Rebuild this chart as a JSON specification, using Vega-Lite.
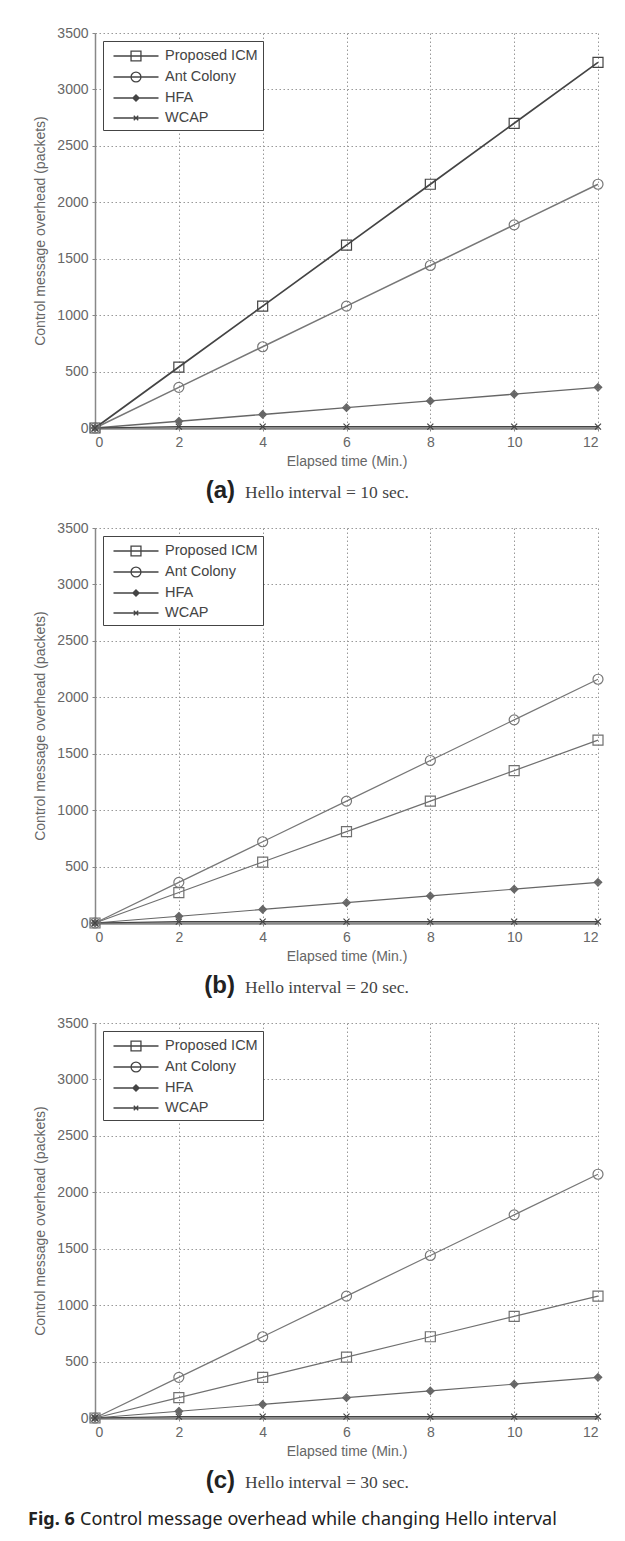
{
  "$schema": "https://vega.github.io/schema/vega-lite/v6.json",
  "background": "white",
  "padding": {"left": 28, "top": 26, "right": 5, "bottom": 0},
  "config": {
    "view": {"stroke": null},
    "font": "Liberation Sans",
    "axis": {
      "labelFont": "Liberation Sans", "labelFontSize": 14, "labelColor": "#666",
      "titleFont": "Liberation Sans", "titleFontSize": 14, "titleFontWeight": "normal", "titleColor": "#666",
      "grid": true, "gridDash": [1.5, 2.5], "gridColor": "#999", "gridWidth": 1,
      "domainColor": "#888", "tickColor": "#888", "tickSize": 3, "labelPadding": 4
    },
    "axisX": {"domainWidth": 2.5, "titlePadding": 5},
    "axisY": {"titlePadding": 9, "domainWidth": 1.5}
  },
  "datasets": {
    "series": [
      {"p": "a", "s": "Proposed ICM", "t": 0, "v": 0}, {"p": "a", "s": "Proposed ICM", "t": 2, "v": 540}, {"p": "a", "s": "Proposed ICM", "t": 4, "v": 1080}, {"p": "a", "s": "Proposed ICM", "t": 6, "v": 1620}, {"p": "a", "s": "Proposed ICM", "t": 8, "v": 2160}, {"p": "a", "s": "Proposed ICM", "t": 10, "v": 2700}, {"p": "a", "s": "Proposed ICM", "t": 12, "v": 3240},
      {"p": "a", "s": "Ant Colony", "t": 0, "v": 0}, {"p": "a", "s": "Ant Colony", "t": 2, "v": 360}, {"p": "a", "s": "Ant Colony", "t": 4, "v": 720}, {"p": "a", "s": "Ant Colony", "t": 6, "v": 1080}, {"p": "a", "s": "Ant Colony", "t": 8, "v": 1440}, {"p": "a", "s": "Ant Colony", "t": 10, "v": 1800}, {"p": "a", "s": "Ant Colony", "t": 12, "v": 2160},
      {"p": "a", "s": "HFA", "t": 0, "v": 0}, {"p": "a", "s": "HFA", "t": 2, "v": 60}, {"p": "a", "s": "HFA", "t": 4, "v": 120}, {"p": "a", "s": "HFA", "t": 6, "v": 180}, {"p": "a", "s": "HFA", "t": 8, "v": 240}, {"p": "a", "s": "HFA", "t": 10, "v": 300}, {"p": "a", "s": "HFA", "t": 12, "v": 360},
      {"p": "a", "s": "WCAP", "t": 0, "v": 0}, {"p": "a", "s": "WCAP", "t": 2, "v": 12}, {"p": "a", "s": "WCAP", "t": 4, "v": 12}, {"p": "a", "s": "WCAP", "t": 6, "v": 12}, {"p": "a", "s": "WCAP", "t": 8, "v": 12}, {"p": "a", "s": "WCAP", "t": 10, "v": 12}, {"p": "a", "s": "WCAP", "t": 12, "v": 12},
      {"p": "b", "s": "Proposed ICM", "t": 0, "v": 0}, {"p": "b", "s": "Proposed ICM", "t": 2, "v": 270}, {"p": "b", "s": "Proposed ICM", "t": 4, "v": 540}, {"p": "b", "s": "Proposed ICM", "t": 6, "v": 810}, {"p": "b", "s": "Proposed ICM", "t": 8, "v": 1080}, {"p": "b", "s": "Proposed ICM", "t": 10, "v": 1350}, {"p": "b", "s": "Proposed ICM", "t": 12, "v": 1620},
      {"p": "b", "s": "Ant Colony", "t": 0, "v": 0}, {"p": "b", "s": "Ant Colony", "t": 2, "v": 360}, {"p": "b", "s": "Ant Colony", "t": 4, "v": 720}, {"p": "b", "s": "Ant Colony", "t": 6, "v": 1080}, {"p": "b", "s": "Ant Colony", "t": 8, "v": 1440}, {"p": "b", "s": "Ant Colony", "t": 10, "v": 1800}, {"p": "b", "s": "Ant Colony", "t": 12, "v": 2160},
      {"p": "b", "s": "HFA", "t": 0, "v": 0}, {"p": "b", "s": "HFA", "t": 2, "v": 60}, {"p": "b", "s": "HFA", "t": 4, "v": 120}, {"p": "b", "s": "HFA", "t": 6, "v": 180}, {"p": "b", "s": "HFA", "t": 8, "v": 240}, {"p": "b", "s": "HFA", "t": 10, "v": 300}, {"p": "b", "s": "HFA", "t": 12, "v": 360},
      {"p": "b", "s": "WCAP", "t": 0, "v": 0}, {"p": "b", "s": "WCAP", "t": 2, "v": 12}, {"p": "b", "s": "WCAP", "t": 4, "v": 12}, {"p": "b", "s": "WCAP", "t": 6, "v": 12}, {"p": "b", "s": "WCAP", "t": 8, "v": 12}, {"p": "b", "s": "WCAP", "t": 10, "v": 12}, {"p": "b", "s": "WCAP", "t": 12, "v": 12},
      {"p": "c", "s": "Proposed ICM", "t": 0, "v": 0}, {"p": "c", "s": "Proposed ICM", "t": 2, "v": 180}, {"p": "c", "s": "Proposed ICM", "t": 4, "v": 360}, {"p": "c", "s": "Proposed ICM", "t": 6, "v": 540}, {"p": "c", "s": "Proposed ICM", "t": 8, "v": 720}, {"p": "c", "s": "Proposed ICM", "t": 10, "v": 900}, {"p": "c", "s": "Proposed ICM", "t": 12, "v": 1080},
      {"p": "c", "s": "Ant Colony", "t": 0, "v": 0}, {"p": "c", "s": "Ant Colony", "t": 2, "v": 360}, {"p": "c", "s": "Ant Colony", "t": 4, "v": 720}, {"p": "c", "s": "Ant Colony", "t": 6, "v": 1080}, {"p": "c", "s": "Ant Colony", "t": 8, "v": 1440}, {"p": "c", "s": "Ant Colony", "t": 10, "v": 1800}, {"p": "c", "s": "Ant Colony", "t": 12, "v": 2160},
      {"p": "c", "s": "HFA", "t": 0, "v": 0}, {"p": "c", "s": "HFA", "t": 2, "v": 60}, {"p": "c", "s": "HFA", "t": 4, "v": 120}, {"p": "c", "s": "HFA", "t": 6, "v": 180}, {"p": "c", "s": "HFA", "t": 8, "v": 240}, {"p": "c", "s": "HFA", "t": 10, "v": 300}, {"p": "c", "s": "HFA", "t": 12, "v": 360},
      {"p": "c", "s": "WCAP", "t": 0, "v": 0}, {"p": "c", "s": "WCAP", "t": 2, "v": 12}, {"p": "c", "s": "WCAP", "t": 4, "v": 12}, {"p": "c", "s": "WCAP", "t": 6, "v": 12}, {"p": "c", "s": "WCAP", "t": 8, "v": 12}, {"p": "c", "s": "WCAP", "t": 10, "v": 12}, {"p": "c", "s": "WCAP", "t": 12, "v": 12}
    ]
  },
  "spacing": 0,
  "bounds": "flush",
  "resolve": {
    "scale": {"shape": "independent", "color": "independent", "strokeWidth": "independent", "x": "independent", "y": "independent"},
    "legend": {"shape": "independent"}
  },
  "vconcat": [
    {
      "width": 503, "height": 395,
      "data": {"name": "series"},
      "transform": [{"filter": "datum.p == 'a'"}],
      "resolve": {"scale": {"shape": "independent"}},
      "encoding": {
        "x": {"field": "t", "type": "quantitative", "scale": {"domain": [0, 12]}, "axis": {"title": "Elapsed time (Min.)", "values": [0, 2, 4, 6, 8, 10, 12]}},
        "y": {"field": "v", "type": "quantitative", "scale": {"domain": [0, 3500]}, "axis": {"title": "Control message overhead (packets)", "format": "d", "values": [0, 500, 1000, 1500, 2000, 2500, 3000, 3500]}}
      },
      "layer": [
        {
          "mark": {"type": "line"},
          "encoding": {
            "detail": {"field": "s"},
            "color": {"field": "s", "type": "nominal", "scale": {"domain": ["Proposed ICM", "Ant Colony", "HFA", "WCAP"], "range": ["#444444", "#777777", "#666666", "#444444"]}, "legend": null},
            "strokeWidth": {"field": "s", "type": "nominal", "scale": {"domain": ["Proposed ICM", "Ant Colony", "HFA", "WCAP"], "range": [1.7, 1.2, 1.3, 1.8]}, "legend": null}
          }
        },
        {
          "mark": {"type": "point", "filled": false, "opacity": 1, "size": 100, "strokeWidth": 1.2},
          "encoding": {
            "color": {"field": "s", "type": "nominal", "legend": null},
            "shape": {"field": "s", "type": "nominal", "legend": null, "scale": {"domain": ["Proposed ICM", "Ant Colony", "HFA", "WCAP"], "range": ["M-1,-1H1V1H-1Z", "M1,0A1,1,0,1,1,-1,0A1,1,0,1,1,1,0", "M0,-0.75L0.75,0L0,0.75L-0.75,0ZM0,-0.4L0.4,0L0,0.4L-0.4,0ZM0,-0.75V0.75M-0.75,0H0.75", "M-0.6,-0.6L0.6,0.6M-0.6,0.6L0.6,-0.6"]}}
          }
        },
        {
          "transform": [{"filter": "false"}],
          "mark": {"type": "point", "filled": false, "opacity": 1, "color": "#444", "strokeWidth": 1.2},
          "encoding": {
            "shape": {"field": "s", "type": "nominal", "scale": {"domain": ["Proposed ICM", "Ant Colony", "HFA", "WCAP"], "range": ["M-0.5,0H4.5M1.45,-0.55H2.55V0.55H1.45Z", "M-0.5,0H4.5M2.55,0A0.55,0.55,0,1,1,1.45,0A0.55,0.55,0,1,1,2.55,0", "M-0.5,0H4.5M2,-0.35L2.35,0L2,0.35L1.65,0ZM2,-0.17L2.17,0L2,0.17L1.83,0ZM2,-0.35V0.35", "M-0.5,0H4.5M1.75,-0.25L2.25,0.25M1.75,0.25L2.25,-0.25"]},
              "legend": {"title": null, "orient": "top-left", "offset": 8, "padding": 5, "strokeColor": "#444", "fillColor": "white", "symbolSize": 324, "symbolStrokeColor": "#444", "symbolStrokeWidth": 1.3, "symbolFillColor": "transparent", "labelFont": "Liberation Sans", "labelFontSize": 14.5, "labelColor": "#444", "labelOffset": 37, "rowPadding": 3}}
          }
        }
      ]
    },
    {
      "width": 503, "height": 100,
      "layer": [
        {"data": {"values": [{"cap": "(a)"}]}, "mark": {"type": "text", "align": "right", "baseline": "middle", "dx": -111.5, "dy": 13, "font": "Liberation Sans", "fontWeight": "bold", "fontSize": 24, "color": "#222"}, "encoding": {"text": {"field": "cap"}}},
        {"data": {"values": [{"cap": "Hello interval = 10 sec."}]}, "mark": {"type": "text", "align": "left", "baseline": "middle", "dx": -101.5, "dy": 15, "font": "Liberation Serif", "fontSize": 17.5, "color": "#444"}, "encoding": {"text": {"field": "cap"}}}
      ]
    },
    {
      "width": 503, "height": 395,
      "data": {"name": "series"},
      "transform": [{"filter": "datum.p == 'b'"}],
      "resolve": {"scale": {"shape": "independent"}},
      "encoding": {
        "x": {"field": "t", "type": "quantitative", "scale": {"domain": [0, 12]}, "axis": {"title": "Elapsed time (Min.)", "values": [0, 2, 4, 6, 8, 10, 12]}},
        "y": {"field": "v", "type": "quantitative", "scale": {"domain": [0, 3500]}, "axis": {"title": "Control message overhead (packets)", "format": "d", "values": [0, 500, 1000, 1500, 2000, 2500, 3000, 3500]}}
      },
      "layer": [
        {
          "mark": {"type": "line"},
          "encoding": {
            "detail": {"field": "s"},
            "color": {"field": "s", "type": "nominal", "scale": {"domain": ["Proposed ICM", "Ant Colony", "HFA", "WCAP"], "range": ["#707070", "#777777", "#666666", "#444444"]}, "legend": null},
            "strokeWidth": {"field": "s", "type": "nominal", "scale": {"domain": ["Proposed ICM", "Ant Colony", "HFA", "WCAP"], "range": [1.2, 1.2, 1.3, 1.8]}, "legend": null}
          }
        },
        {
          "mark": {"type": "point", "filled": false, "opacity": 1, "size": 100, "strokeWidth": 1.2},
          "encoding": {
            "color": {"field": "s", "type": "nominal", "legend": null},
            "shape": {"field": "s", "type": "nominal", "legend": null, "scale": {"domain": ["Proposed ICM", "Ant Colony", "HFA", "WCAP"], "range": ["M-1,-1H1V1H-1Z", "M1,0A1,1,0,1,1,-1,0A1,1,0,1,1,1,0", "M0,-0.75L0.75,0L0,0.75L-0.75,0ZM0,-0.4L0.4,0L0,0.4L-0.4,0ZM0,-0.75V0.75M-0.75,0H0.75", "M-0.6,-0.6L0.6,0.6M-0.6,0.6L0.6,-0.6"]}}
          }
        },
        {
          "transform": [{"filter": "false"}],
          "mark": {"type": "point", "filled": false, "opacity": 1, "color": "#444", "strokeWidth": 1.2},
          "encoding": {
            "shape": {"field": "s", "type": "nominal", "scale": {"domain": ["Proposed ICM", "Ant Colony", "HFA", "WCAP"], "range": ["M-0.5,0H4.5M1.45,-0.55H2.55V0.55H1.45Z", "M-0.5,0H4.5M2.55,0A0.55,0.55,0,1,1,1.45,0A0.55,0.55,0,1,1,2.55,0", "M-0.5,0H4.5M2,-0.35L2.35,0L2,0.35L1.65,0ZM2,-0.17L2.17,0L2,0.17L1.83,0ZM2,-0.35V0.35", "M-0.5,0H4.5M1.75,-0.25L2.25,0.25M1.75,0.25L2.25,-0.25"]},
              "legend": {"title": null, "orient": "top-left", "offset": 8, "padding": 5, "strokeColor": "#444", "fillColor": "white", "symbolSize": 324, "symbolStrokeColor": "#444", "symbolStrokeWidth": 1.3, "symbolFillColor": "transparent", "labelFont": "Liberation Sans", "labelFontSize": 14.5, "labelColor": "#444", "labelOffset": 37, "rowPadding": 3}}
          }
        }
      ]
    },
    {
      "width": 503, "height": 100,
      "layer": [
        {"data": {"values": [{"cap": "(b)"}]}, "mark": {"type": "text", "align": "right", "baseline": "middle", "dx": -111.5, "dy": 13, "font": "Liberation Sans", "fontWeight": "bold", "fontSize": 24, "color": "#222"}, "encoding": {"text": {"field": "cap"}}},
        {"data": {"values": [{"cap": "Hello interval = 20 sec."}]}, "mark": {"type": "text", "align": "left", "baseline": "middle", "dx": -101.5, "dy": 15, "font": "Liberation Serif", "fontSize": 17.5, "color": "#444"}, "encoding": {"text": {"field": "cap"}}}
      ]
    },
    {
      "width": 503, "height": 395,
      "data": {"name": "series"},
      "transform": [{"filter": "datum.p == 'c'"}],
      "resolve": {"scale": {"shape": "independent"}},
      "encoding": {
        "x": {"field": "t", "type": "quantitative", "scale": {"domain": [0, 12]}, "axis": {"title": "Elapsed time (Min.)", "values": [0, 2, 4, 6, 8, 10, 12]}},
        "y": {"field": "v", "type": "quantitative", "scale": {"domain": [0, 3500]}, "axis": {"title": "Control message overhead (packets)", "format": "d", "values": [0, 500, 1000, 1500, 2000, 2500, 3000, 3500]}}
      },
      "layer": [
        {
          "mark": {"type": "line"},
          "encoding": {
            "detail": {"field": "s"},
            "color": {"field": "s", "type": "nominal", "scale": {"domain": ["Proposed ICM", "Ant Colony", "HFA", "WCAP"], "range": ["#707070", "#777777", "#666666", "#444444"]}, "legend": null},
            "strokeWidth": {"field": "s", "type": "nominal", "scale": {"domain": ["Proposed ICM", "Ant Colony", "HFA", "WCAP"], "range": [1.2, 1.2, 1.3, 1.8]}, "legend": null}
          }
        },
        {
          "mark": {"type": "point", "filled": false, "opacity": 1, "size": 100, "strokeWidth": 1.2},
          "encoding": {
            "color": {"field": "s", "type": "nominal", "legend": null},
            "shape": {"field": "s", "type": "nominal", "legend": null, "scale": {"domain": ["Proposed ICM", "Ant Colony", "HFA", "WCAP"], "range": ["M-1,-1H1V1H-1Z", "M1,0A1,1,0,1,1,-1,0A1,1,0,1,1,1,0", "M0,-0.75L0.75,0L0,0.75L-0.75,0ZM0,-0.4L0.4,0L0,0.4L-0.4,0ZM0,-0.75V0.75M-0.75,0H0.75", "M-0.6,-0.6L0.6,0.6M-0.6,0.6L0.6,-0.6"]}}
          }
        },
        {
          "transform": [{"filter": "false"}],
          "mark": {"type": "point", "filled": false, "opacity": 1, "color": "#444", "strokeWidth": 1.2},
          "encoding": {
            "shape": {"field": "s", "type": "nominal", "scale": {"domain": ["Proposed ICM", "Ant Colony", "HFA", "WCAP"], "range": ["M-0.5,0H4.5M1.45,-0.55H2.55V0.55H1.45Z", "M-0.5,0H4.5M2.55,0A0.55,0.55,0,1,1,1.45,0A0.55,0.55,0,1,1,2.55,0", "M-0.5,0H4.5M2,-0.35L2.35,0L2,0.35L1.65,0ZM2,-0.17L2.17,0L2,0.17L1.83,0ZM2,-0.35V0.35", "M-0.5,0H4.5M1.75,-0.25L2.25,0.25M1.75,0.25L2.25,-0.25"]},
              "legend": {"title": null, "orient": "top-left", "offset": 8, "padding": 5, "strokeColor": "#444", "fillColor": "white", "symbolSize": 324, "symbolStrokeColor": "#444", "symbolStrokeWidth": 1.3, "symbolFillColor": "transparent", "labelFont": "Liberation Sans", "labelFontSize": 14.5, "labelColor": "#444", "labelOffset": 37, "rowPadding": 3}}
          }
        }
      ]
    },
    {
      "width": 503, "height": 100,
      "layer": [
        {"data": {"values": [{"cap": "(c)"}]}, "mark": {"type": "text", "align": "right", "baseline": "middle", "dx": -111.5, "dy": 13, "font": "Liberation Sans", "fontWeight": "bold", "fontSize": 24, "color": "#222"}, "encoding": {"text": {"field": "cap"}}},
        {"data": {"values": [{"cap": "Hello interval = 30 sec."}]}, "mark": {"type": "text", "align": "left", "baseline": "middle", "dx": -101.5, "dy": 15, "font": "Liberation Serif", "fontSize": 17.5, "color": "#444"}, "encoding": {"text": {"field": "cap"}}}
      ]
    },
    {
      "width": 503, "height": 20,
      "layer": [
        {"data": {"values": [{"cap": "Fig. 6"}]}, "mark": {"type": "text", "align": "left", "baseline": "middle", "dx": -318.5, "dy": -8, "font": "Noto Sans", "fontWeight": "bold", "fontSize": 18, "color": "#222"}, "encoding": {"text": {"field": "cap"}}},
        {"data": {"values": [{"cap": "Control message overhead while changing Hello interval"}]}, "mark": {"type": "text", "align": "left", "baseline": "middle", "dx": -266.5, "dy": -8, "font": "Noto Sans", "fontSize": 18, "color": "#222"}, "encoding": {"text": {"field": "cap"}}}
      ]
    }
  ]
}
